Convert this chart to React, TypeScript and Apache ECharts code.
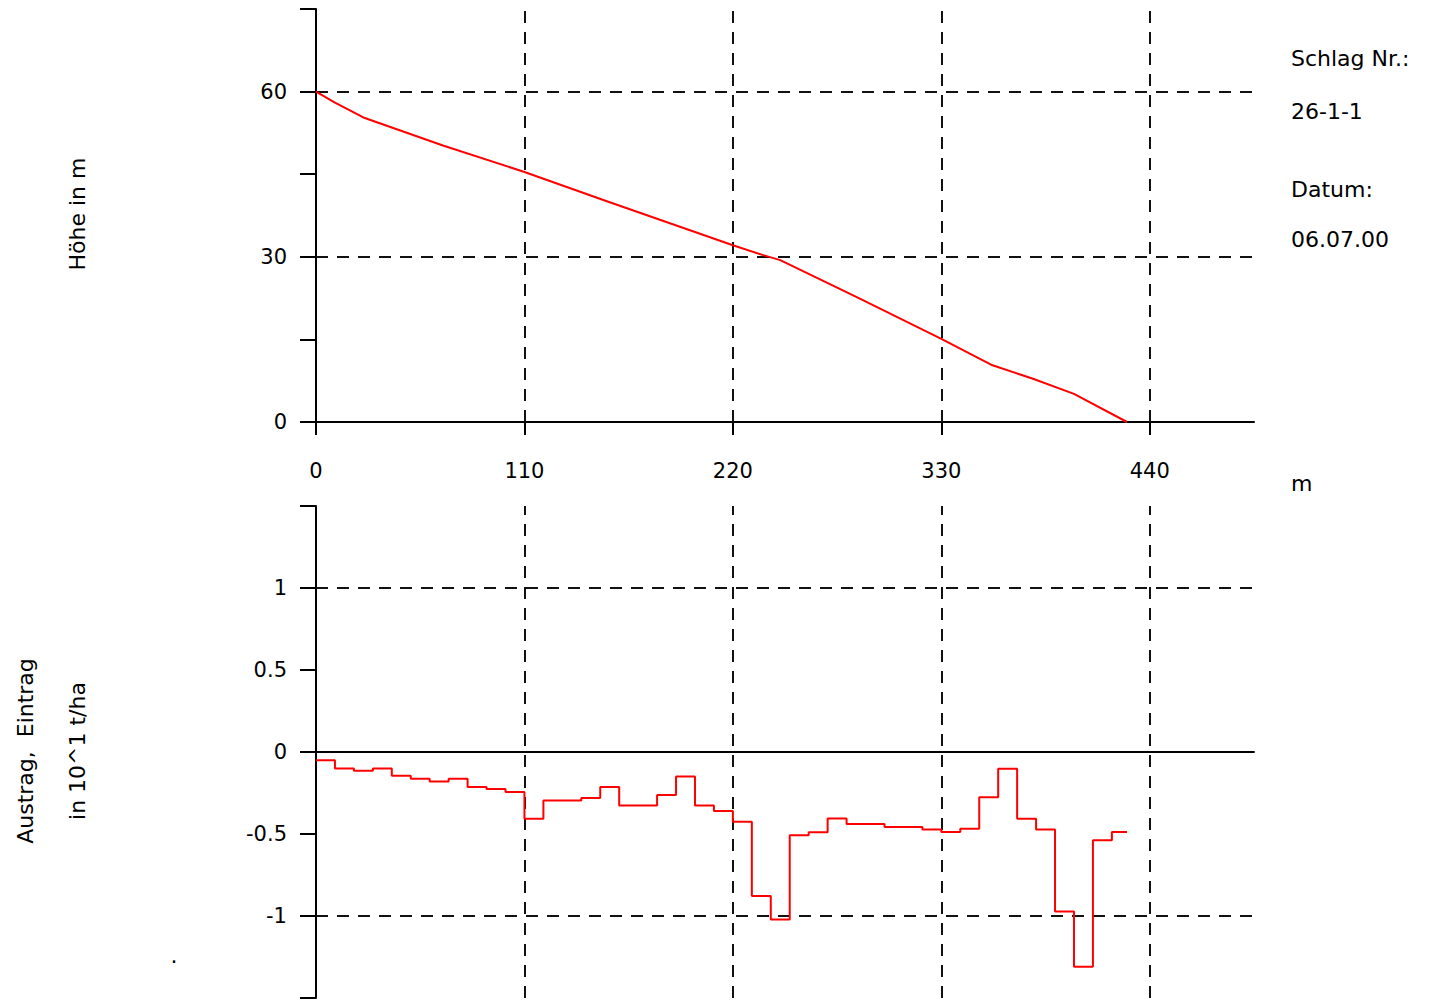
import React, { useEffect, useRef } from 'react';
import * as echarts from 'echarts';

// ---------- data ----------
const xTickValues = [0, 110, 220, 330, 440];
const topYLabelValues = [0, 30, 60];
const topGridValues = [30, 60];
const bottomGridValues = [-1, 1];
const bottomYLabelValues = [-1, -0.5, 0, 0.5, 1];

// elevation profile (Höhe in m) along the slope (m)
const heightX = [0, 10, 25, 67, 110, 155, 200, 220, 236, 245, 287, 330, 357, 378, 400, 428];
const heightY = [60, 58, 55.3, 50.2, 45.4, 39.9, 34.5, 32.1, 30.3, 29.4, 22.4, 15.1, 10.3, 7.9, 5.1, 0];

// soil loss / deposition per 10 m segment (start of segment in m)
const stepX = [
  0, 10, 20, 30, 40, 50, 60, 70, 80, 90,
  100, 110, 120, 130, 140, 150, 160, 170, 180, 190,
  200, 210, 220, 230, 240, 250, 260, 270, 280, 290,
  300, 310, 320, 330, 340, 350, 360, 370, 380, 390,
  400, 410, 420,
];
const stepY = [
  -0.05, -0.1, -0.115, -0.1, -0.145, -0.163, -0.18, -0.163, -0.214, -0.226,
  -0.244, -0.407, -0.295, -0.295, -0.28, -0.214, -0.326, -0.326, -0.262, -0.15,
  -0.326, -0.359, -0.425, -0.878, -1.021, -0.507, -0.49, -0.406, -0.439, -0.439,
  -0.458, -0.458, -0.472, -0.488, -0.468, -0.276, -0.102, -0.407, -0.472, -0.973,
  -1.31, -0.538, -0.488,
];
const stepEndX = 428;

const sideTexts = ['Schlag Nr.:', '26-1-1', 'Datum:', '06.07.00'];
const topTitle = 'Höhe in m';
const bottomTitle1 = 'Austrag,\u00a0 Eintrag';
const bottomTitle2 = 'in 10^1 t/ha';
const xUnit = 'm';

// ---------- styling ----------
const FONT = 'DejaVu Sans';
const BLACK = '#000';
const RED = '#ff0000';
const dashed = { color: '#111', width: 2, type: [12, 9] as number[] };
const axisLineStyle = { color: BLACK, width: 2 };

function gridSeries(xIdx: number, yIdx: number, yVals: number[]) {
  return {
    type: 'line',
    xAxisIndex: xIdx,
    yAxisIndex: yIdx,
    data: [],
    silent: true,
    z: 1,
    markLine: {
      silent: true,
      symbol: ['none', 'none'],
      label: { show: false },
      emphasis: { disabled: true },
      lineStyle: dashed,
      data: [
        ...yVals.map((v) => ({ yAxis: v })),
        ...xTickValues.filter((v) => v > 0).map((v) => ({ xAxis: v })),
      ],
    },
  };
}

const option: any = {
  animation: false,
  backgroundColor: '#fff',
  grid: [
    { left: 316, top: 9, width: 938, height: 413 },
    { left: 316, top: 506, width: 938, height: 492 },
  ],
  xAxis: [
    {
      type: 'value',
      gridIndex: 0,
      min: 0,
      max: 495,
      interval: 110,
      axisLine: { show: true, lineStyle: axisLineStyle },
      axisTick: { show: true, length: 13, lineStyle: axisLineStyle, customValues: xTickValues },
      axisLabel: {
        show: true,
        customValues: xTickValues,
        margin: 38,
        fontSize: 21,
        fontFamily: FONT,
        color: BLACK,
        formatter: (v: number) => (xTickValues.includes(v) ? String(v) : ''),
      },
      splitLine: { show: false },
    },
    {
      type: 'value',
      gridIndex: 1,
      min: 0,
      max: 495,
      interval: 110,
      axisLine: { show: true, onZero: true, lineStyle: axisLineStyle },
      axisTick: { show: false },
      axisLabel: { show: false },
      splitLine: { show: false },
    },
  ],
  yAxis: [
    {
      type: 'value',
      gridIndex: 0,
      min: 0,
      max: 75,
      interval: 15,
      axisLine: { show: true, lineStyle: axisLineStyle },
      axisTick: { show: true, length: 16, lineStyle: axisLineStyle },
      axisLabel: {
        margin: 29,
        fontSize: 21,
        fontFamily: FONT,
        color: BLACK,
        formatter: (v: number) => (topYLabelValues.includes(v) ? String(v) : ''),
      },
      splitLine: { show: false },
    },
    {
      type: 'value',
      gridIndex: 1,
      min: -1.5,
      max: 1.5,
      interval: 0.5,
      axisLine: { show: true, onZero: false, lineStyle: axisLineStyle },
      axisTick: { show: true, length: 16, lineStyle: axisLineStyle },
      axisLabel: {
        margin: 29,
        fontSize: 21,
        fontFamily: FONT,
        color: BLACK,
        formatter: (v: number) => (bottomYLabelValues.includes(v) ? String(v) : ''),
      },
      splitLine: { show: false },
    },
  ],
  series: [
    gridSeries(0, 0, topGridValues),
    {
      name: topTitle,
      type: 'line',
      xAxisIndex: 0,
      yAxisIndex: 0,
      showSymbol: false,
      z: 5,
      lineStyle: { color: RED, width: 2 },
      itemStyle: { color: RED },
      data: heightX.map((x, i) => [x, heightY[i]]),
    },
    gridSeries(1, 1, bottomGridValues),
    {
      name: 'Austrag',
      type: 'line',
      step: 'end',
      xAxisIndex: 1,
      yAxisIndex: 1,
      showSymbol: false,
      z: 5,
      lineStyle: { color: RED, width: 2 },
      itemStyle: { color: RED },
      data: [...stepX.map((x, i) => [x, stepY[i]]), [stepEndX, stepY[stepY.length - 1]]],
    },
  ],
  graphic: [
    {
      type: 'text',
      x: 77,
      y: 214,
      rotation: Math.PI / 2,
      style: { text: topTitle, fontSize: 22, fontFamily: FONT, fill: BLACK, align: 'center', verticalAlign: 'middle' },
    },
    {
      type: 'text',
      x: 25,
      y: 751,
      rotation: Math.PI / 2,
      style: { text: bottomTitle1, fontSize: 22, fontFamily: FONT, fill: BLACK, align: 'center', verticalAlign: 'middle' },
    },
    {
      type: 'text',
      x: 77,
      y: 751,
      rotation: Math.PI / 2,
      style: { text: bottomTitle2, fontSize: 22, fontFamily: FONT, fill: BLACK, align: 'center', verticalAlign: 'middle' },
    },
    ...sideTexts.map((t, i) => ({
      type: 'text',
      x: 1291,
      y: [58, 111, 189, 239][i],
      style: { text: t, fontSize: 22, fontFamily: FONT, fill: BLACK, align: 'left', verticalAlign: 'middle' },
    })),
    {
      type: 'text',
      x: 1291,
      y: 483,
      style: { text: xUnit, fontSize: 22, fontFamily: FONT, fill: BLACK, align: 'left', verticalAlign: 'middle' },
    },
    {
      type: 'text',
      x: 174,
      y: 955,
      style: { text: '.', fontSize: 22, fontFamily: FONT, fill: BLACK, align: 'center', verticalAlign: 'middle' },
    },
  ],
};

export default function App() {
  const ref = useRef<HTMLDivElement>(null);
  useEffect(() => {
    if (!ref.current) return;
    const chart = echarts.init(ref.current, null, { renderer: 'svg' });
    chart.setOption(option);
    return () => chart.dispose();
  }, []);
  return (
    <div
      ref={ref}
      style={{ position: 'absolute', left: 0, top: 0, width: 1430, height: 1001, background: '#fff' }}
    />
  );
}
